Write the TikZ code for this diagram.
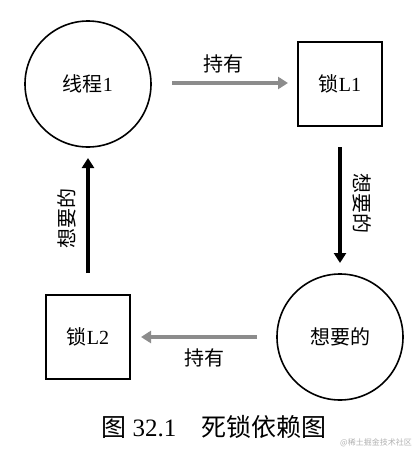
\documentclass[tikz,border=0pt]{standalone}
\usepackage{fontspec}
\setmainfont{Liberation Serif}
\newfontfamily\cjk{Noto Sans CJK SC}
\usetikzlibrary{arrows.meta}
\begin{document}
\begin{tikzpicture}[x=1pt,y=-1pt,
  circ/.style={draw,circle,line width=1.6pt,minimum size=126pt,inner sep=0pt,font=\fontsize{20}{22}\selectfont},
  sq/.style={draw,rectangle,line width=1.8pt,minimum size=84pt,inner sep=0pt,font=\fontsize{20}{22}\selectfont},
  grayarr/.style={draw=black!45,line width=3.5pt,-{Triangle[length=10pt,width=12pt]}},
  blackarr/.style={draw=black,line width=3.2pt,-{Triangle[length=10pt,width=12pt]}},
  lbl/.style={font=\fontsize{20}{22}\selectfont\cjk,inner sep=0pt}]
\useasboundingbox[fill=white] (0,0) rectangle (415,451);
\node[circ] (t1) at (88,84) {{\cjk 线程}1};
\node[sq] (l1) at (340,84) {{\cjk 锁}L1};
\node[circ] (w) at (340,337) {{\cjk 想要的}};
\node[sq] (l2) at (88,337) {{\cjk 锁}L2};
\coordinate (a1s) at (172,83); \coordinate (a1e) at (288,83);
\draw[grayarr] (a1s) -- (a1e);
\node[lbl] (h1) at (224,64) {持有};
\coordinate (a2s) at (340,147); \coordinate (a2e) at (340,263);
\draw[blackarr] (a2s) -- (a2e);
\node[lbl,rotate=-90] (x1) at (362,203) {想要的};
\coordinate (a3s) at (257,337); \coordinate (a3e) at (141,337);
\draw[grayarr] (a3s) -- (a3e);
\node[lbl] (h2) at (204,358) {持有};
\coordinate (a4s) at (88,273); \coordinate (a4e) at (88,158);
\draw[blackarr] (a4s) -- (a4e);
\node[lbl,rotate=90] (x2) at (67,218) {想要的};
\node[font=\fontsize{25}{28}\selectfont,inner sep=0pt] (cap) at (214,427) {{\cjk 图} 32.1\quad{\cjk 死锁依赖图}};
\node[font=\fontsize{8}{9}\selectfont\cjk,text=black!30,inner sep=0pt,anchor=east] (wm) at (412,443) {@稀土掘金技术社区};
\end{tikzpicture}
\end{document}
